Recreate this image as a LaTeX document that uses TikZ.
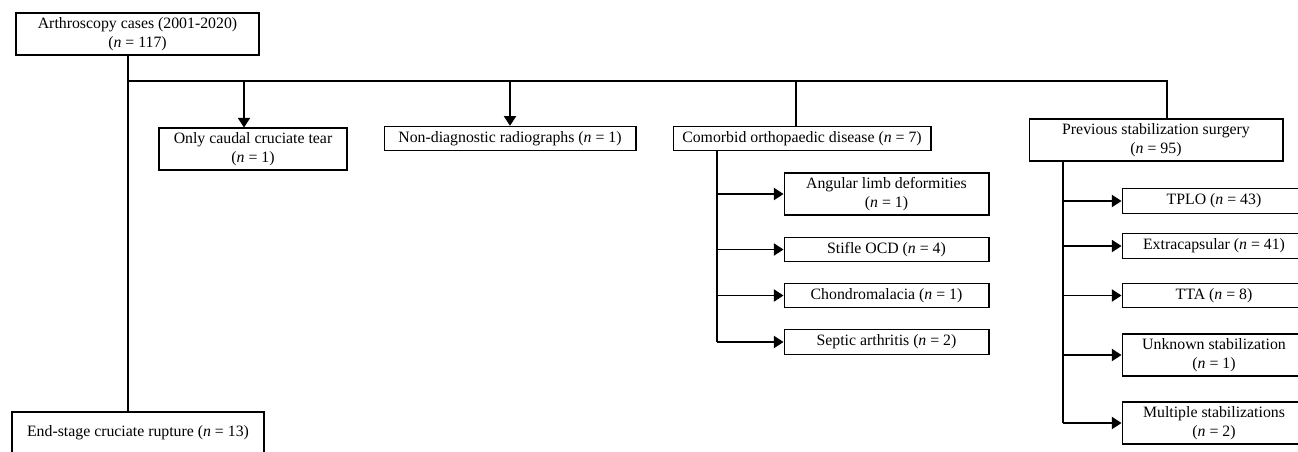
\documentclass[tikz,border=0pt]{standalone}
\usepackage{fontspec}
\setmainfont{Liberation Serif}
\usetikzlibrary{arrows.meta}
\newcommand{\nval}[1]{(\textit{n} = #1)}
\begin{document}
\begin{tikzpicture}[
    x=0.02cm, y=-0.02cm,
    box/.style={draw, line width=0.6pt, inner sep=0pt, align=center, font=\fontsize{9}{11}\selectfont},
    tall/.style={minimum height=0.84cm},
    flat/.style={minimum height=0.49cm},
    arrow/.style={-{Triangle[length=5.5pt, width=7pt]}, line width=0.6pt},
    link/.style={line width=0.6pt}
]
    \useasboundingbox (0,0) rectangle (1298,451);
    \clip (0,0) rectangle (1298,451);

    % top level
    \node[box, tall, minimum width=4.86cm] (cases) at (137.5,34) {Arthroscopy cases (2001-2020)\\\nval{117}};
    \node[box, tall, minimum width=3.76cm] (caudal) at (253,149) {Only caudal cruciate tear\\\nval{1}};
    \node[box, flat, minimum width=5.04cm] (radio) at (510,138.5) {Non-diagnostic radiographs \nval{1}};
    \node[box, flat, minimum width=5.16cm] (comorbid) at (802,138.5) {Comorbid orthopaedic disease \nval{7}};
    \node[box, tall, minimum width=5.08cm] (prev) at (1156,140) {Previous stabilization surgery\\\nval{95}};
    \node[box, tall, minimum width=5.04cm] (endstage) at (138,433) {End-stage cruciate rupture \nval{13}};

    % comorbid diseases
    \node[box, tall, minimum width=4.1cm] (angular) at (886.5,194) {Angular limb deformities\\\nval{1}};
    \node[box, flat, minimum width=4.1cm] (ocd) at (886.5,249.5) {Stifle OCD \nval{4}};
    \node[box, flat, minimum width=4.1cm] (chondro) at (886.5,295.5) {Chondromalacia \nval{1}};
    \node[box, flat, minimum width=4.1cm] (septic) at (886.5,342) {Septic arthritis \nval{2}};

    % stabilization techniques
    \node[box, flat, minimum width=3.68cm] (tplo) at (1214,201) {TPLO \nval{43}};
    \node[box, flat, minimum width=3.68cm] (extra) at (1214,246) {Extracapsular \nval{41}};
    \node[box, flat, minimum width=3.68cm] (tta) at (1214,295.5) {TTA \nval{8}};
    \node[box, tall, minimum width=3.68cm] (unknown) at (1214,355) {Unknown stabilization\\\nval{1}};
    \node[box, tall, minimum width=3.68cm] (multi) at (1214,423) {Multiple stabilizations\\\nval{2}};

    % junction points
    \coordinate (trunk) at (128,81);
    \coordinate (dcaudal) at (244,81);
    \coordinate (dradio) at (510,81);
    \coordinate (dcomorbid) at (796,81);
    \coordinate (dprev) at (1167,81);
    \coordinate (bcomorbid) at (717,151);
    \coordinate (bprev) at (1063,161);

    \draw[link] (cases.south -| trunk) -- (endstage.north -| trunk);
    \draw[link] (trunk) -- (dprev) -- (prev.north -| dprev);
    \draw[link] (dcomorbid) -- (comorbid.north -| dcomorbid);
    \draw[arrow] (dcaudal) -- (caudal.north -| dcaudal);
    \draw[arrow] (dradio) -- (radio.north);

    \draw[link] (comorbid.south -| bcomorbid) -- (septic.west -| bcomorbid);
    \foreach \n in {angular, ocd, chondro, septic}
        \draw[arrow] (\n.west -| bcomorbid) -- (\n.west);

    \draw[link] (prev.south -| bprev) -- (multi.west -| bprev);
    \foreach \n in {tplo, extra, tta, unknown, multi}
        \draw[arrow] (\n.west -| bprev) -- (\n.west);
\end{tikzpicture}
\end{document}
